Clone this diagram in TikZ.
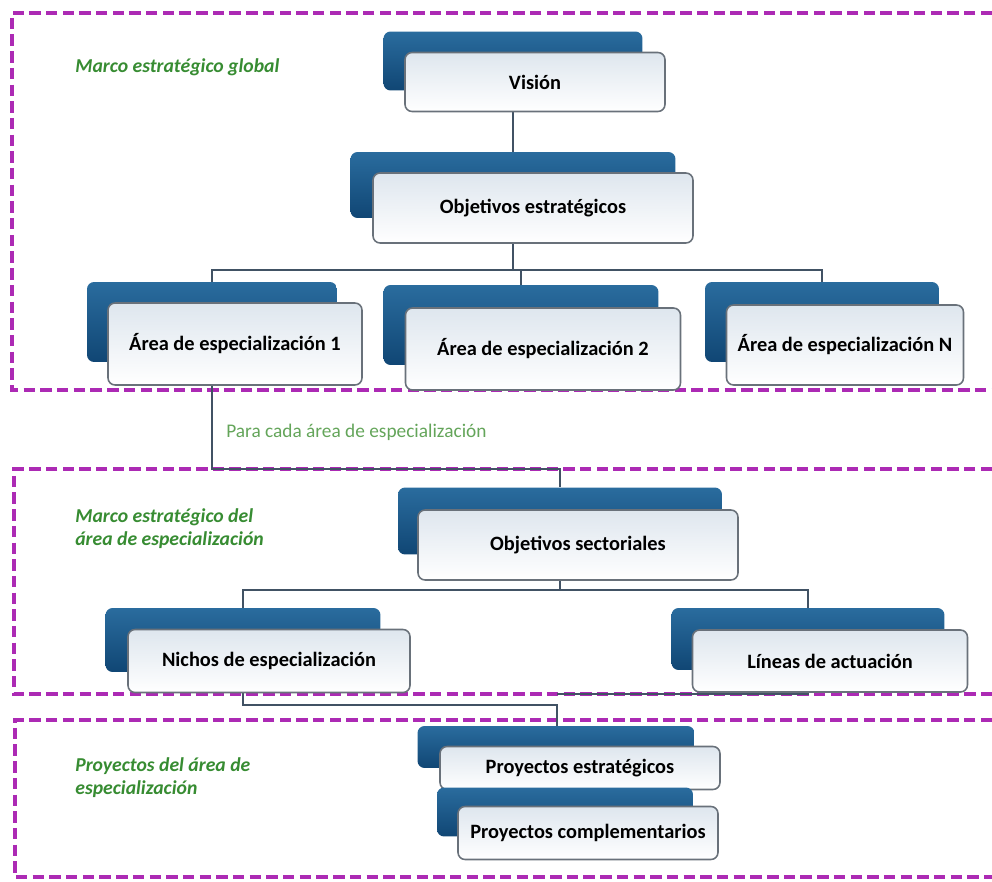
\documentclass[tikz,border=0pt]{standalone}
\usepackage{fontspec}
\setmainfont{Carlito}
\usepackage{tikz}
\usetikzlibrary{positioning,calc}

\definecolor{marcolila}{RGB}{172,42,180}
\definecolor{verdetit}{RGB}{55,140,50}
\definecolor{verdeclaro}{RGB}{100,165,90}
\definecolor{azularriba}{RGB}{42,108,158}
\definecolor{azulabajo}{RGB}{16,70,116}
\definecolor{grisclaro}{RGB}{222,230,238}
\definecolor{borde}{RGB}{105,113,122}
\definecolor{linea}{RGB}{65,82,100}

\begin{document}
\begin{tikzpicture}[x=0.02cm, y=-0.02cm,
      marco/.style={draw=marcolila, line width=2.3pt, dash pattern=on 6.5pt off 3pt},
      atras/.style={rounded corners=4pt, top color=azularriba, bottom color=azulabajo, draw=none},
      frente/.style={rounded corners=4pt, top color=grisclaro, bottom color=white,
        draw=borde, line width=0.9pt, font=\bfseries\fontsize{11.6}{13}\selectfont},
      titulo/.style={anchor=west, align=left, text=verdetit, inner sep=0pt,
        font=\bfseries\itshape\fontsize{11.2}{13}\selectfont},
      conector/.style={draw=linea, line width=0.8pt}
  ]
    \useasboundingbox (0,0) rectangle (992,882);

    % marcos
    \draw[marco] (992,13) -| (12,390) -- (992,390);
    \draw[marco] (992,469) -| (14,694) -- (992,694);
    \draw[marco] (992,720) -| (15,877) -- (992,877);

    % cajas de fondo
    \node[atras, minimum width=5.18cm, minimum height=1.18cm] (vis-b) at (513,61) {};
    \node[atras, minimum width=6.5cm, minimum height=1.32cm] (obj-b) at (513,185) {};
    \node[atras, minimum width=5cm, minimum height=1.6cm] (area1-b) at (212,322) {};
    \node[atras, minimum width=5.5cm, minimum height=1.6cm] (area2-b) at (521,325) {};
    \node[atras, minimum width=4.68cm, minimum height=1.6cm] (areaN-b) at (822,322) {};
    \node[atras, minimum width=6.48cm, minimum height=1.34cm] (sec-b) at (560,521) {};
    \node[atras, minimum width=5.5cm, minimum height=1.28cm] (nichos-b) at (243,640) {};
    \node[atras, minimum width=5.46cm, minimum height=1.24cm] (lineas-b) at (808,639) {};

    % conectores
    \coordinate (bus1) at (513,270);
    \coordinate (para) at (560,469);
    \coordinate (bus2) at (560,590);
    \coordinate (proy) at (557,705);
    \coordinate (proy2) at (557,694);
    \draw[conector] (vis-b.south) -- (obj-b.north);
    \draw[conector] (obj-b.south) -- (bus1);
    \draw[conector] (area1-b.north) |- (bus1) -| (areaN-b.north);
    \draw[conector] (area2-b.north) -- (area2-b.north |- bus1);
    \draw[conector] (area1-b.south) |- (para) -- (sec-b.north);
    \draw[conector] (sec-b.south) -- (bus2);
    \draw[conector] (nichos-b.north) |- (bus2) -| (lineas-b.north);
    \draw[conector] (nichos-b.south) |- (proy) -- ++(0,22) coordinate (pe-top);
    \draw[conector] (lineas-b.south) |- (proy2);

    % cajas de frente
    \node[frente, minimum width=5.2cm, minimum height=1.18cm] (vis) at (535,82) {Visión};
    \node[frente, minimum width=6.4cm, minimum height=1.4cm] (obj) at (533,208) {Objetivos estratégicos};
    \node[frente, minimum width=5.08cm, minimum height=1.64cm] (area1) at (235,344) {Área de especialización 1};
    \node[frente, minimum width=5.5cm, minimum height=1.64cm] (area2) at (543,349) {Área de especialización 2};
    \node[frente, minimum width=4.74cm, minimum height=1.6cm] (areaN) at (845,345) {Área de especialización N};
    \node[frente, minimum width=6.4cm, minimum height=1.4cm] (sec) at (578,545) {Objetivos sectoriales};
    \node[frente, minimum width=5.64cm, minimum height=1.26cm] (nichos) at (269,661) {Nichos de especialización};
    \node[frente, minimum width=5.5cm, minimum height=1.24cm] (lineas) at (830,661) {Líneas de actuación};

    \node[atras, minimum width=5.54cm, minimum height=0.84cm] (pe-b) at (556,747) {};
    \node[frente, minimum width=5.6cm, minimum height=0.86cm] (pe) at (580,768) {Proyectos estratégicos};
    \node[atras, minimum width=5.12cm, minimum height=0.98cm] (pc-b) at (565,812) {};
    \node[frente, minimum width=5.2cm, minimum height=1.06cm] (pc) at (588,833) {Proyectos complementarios};

    % titulos
    \node[titulo] (t-global) at (75,67) {Marco estratégico global};
    \node[titulo] (t-area) at (75,529) {Marco estratégico del\\área de especialización};
    \node[titulo] (t-proy) at (75,778) {Proyectos del área de\\especialización};
    \node[anchor=west, inner sep=0pt, text=verdeclaro, font=\fontsize{11}{12}\selectfont] (t-para) at (226,432)
      {Para cada área de especialización};
\end{tikzpicture}
\end{document}
